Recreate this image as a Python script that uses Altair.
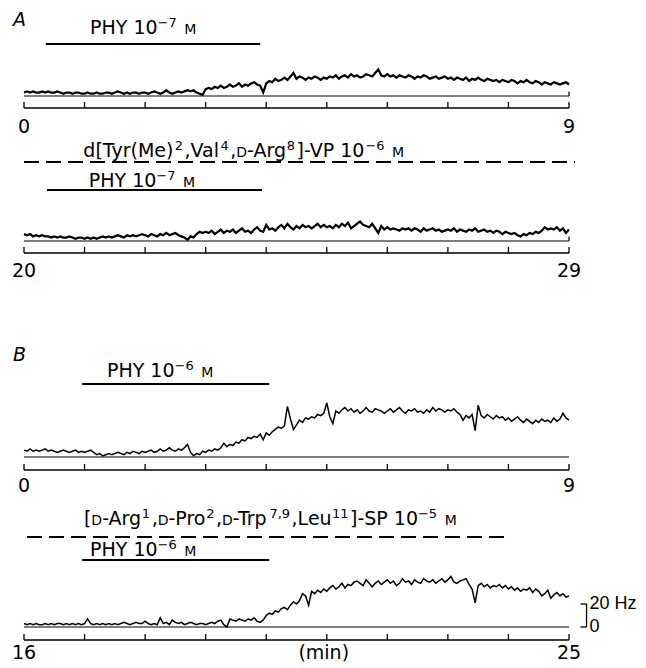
import altair as alt
import pandas as pd

# ---------------- data (firing rate, Hz, sampled every 0.05 min) ----------------
STEP = 0.05
A1_START, A2_START, B1_START, B2_START = 0, 20, 0, 16

A1_HZ = [3,4,3,4,3,3,4,3,4,3,3,4,3,2,3,3,2,3,3,2,
         2,3,2,2,3,2,2,3,3,2,3,4,3,2,3,2,3,3,2,3,
         3,2,3,4,3,2,3,5,3,2,3,4,3,4,5,4,5,3,2,1,
         6,7,6,8,7,9,7,8,10,8,9,11,8,10,9,11,12,10,9,3,
         11,13,12,15,13,14,16,14,17,20,15,17,16,14,16,15,17,16,14,16,
         15,17,16,18,15,17,18,16,19,17,18,16,17,19,18,17,20,23,18,17,
         19,17,18,16,18,17,16,18,17,15,17,16,18,17,15,16,17,15,16,17,
         15,16,14,16,15,14,16,13,15,14,16,14,13,15,14,13,14,12,14,13,
         12,14,13,11,13,12,14,12,11,13,12,10,12,11,10,12,11,10,11,12,
         10]

A2_HZ = [6,5,6,4,5,4,5,4,4,3,4,3,4,3,3,4,3,2,3,3,
         2,3,2,3,2,3,4,3,4,3,4,5,4,3,5,4,5,4,5,6,
         5,4,6,5,4,6,5,7,5,6,7,5,4,3,1,4,3,6,8,7,
         8,7,9,6,8,10,7,9,8,10,7,9,11,8,9,7,10,12,9,8,
         14,10,11,9,12,14,11,15,12,10,13,11,14,12,13,11,13,15,12,14,
         12,13,11,14,12,15,13,16,11,13,15,17,14,13,12,15,11,7,13,10,
         12,10,11,10,9,11,10,11,9,11,10,8,11,9,10,11,9,10,8,9,
         10,9,11,8,10,9,8,10,9,11,8,9,10,8,9,7,9,8,6,8,
         7,6,7,5,4,6,5,7,6,8,7,9,12,10,11,10,12,9,11,7,
         10]

B1_HZ = [6,5,7,5,6,5,6,7,5,6,5,4,5,6,5,4,5,6,4,5,
         4,5,6,4,2,3,1,2,3,2,3,4,3,2,4,3,5,4,3,5,
         4,5,6,4,5,7,5,6,8,6,5,7,6,8,11,4,1,3,2,5,
         4,6,5,7,6,8,12,9,11,10,13,12,15,14,17,16,18,17,20,15,
         21,19,22,24,26,25,27,44,33,24,28,32,30,34,33,35,34,37,36,38,
         47,35,29,40,38,41,43,40,42,39,41,38,40,43,40,39,42,41,40,38,
         40,42,39,41,43,40,38,41,40,42,39,40,38,41,39,43,40,42,41,39,
         41,40,42,39,37,32,36,34,37,23,45,36,34,37,35,33,36,34,35,32,
         34,31,33,35,32,30,33,31,29,32,30,33,31,32,30,34,31,33,38,34,
         32]

B2_HZ = [3,2,3,2,3,2,2,3,2,3,2,3,3,2,3,2,3,2,3,2,
         3,7,3,2,3,2,3,2,3,2,3,2,3,4,3,2,3,4,3,3,
         5,3,2,3,2,8,3,4,2,6,4,3,4,2,3,4,3,2,3,3,
         2,3,4,3,5,6,2,0,7,6,5,7,6,5,7,6,8,5,4,6,
         10,12,11,14,13,16,17,15,19,22,20,23,29,27,19,31,29,32,30,33,
         31,34,36,33,35,38,34,37,36,39,40,38,36,41,38,35,38,40,37,39,
         41,38,40,36,38,42,39,40,37,41,39,38,42,40,39,41,38,40,42,39,
         41,44,39,38,40,41,42,37,33,21,36,38,35,37,34,36,35,37,34,36,
         33,35,32,34,31,33,32,34,30,33,31,27,29,32,25,28,30,27,29,26,
         27]

# drug applications (minutes from start of each record)
PHY_A = [0.36, 3.90]
PHY_B = [0.96, 4.05]
VP_ANT = [0.0, 9.1]
SP_ANT = [0.05, 7.98]
SPAN = 9            # minutes per record
CAL_HZ = 20         # calibration bar

# annotation texts: (segment, style) n = normal, sup = superscript, sc = small capital
TXT_PHY7 = [("PHY 10", "n"), ("\u22127", "sup"), (" ", "n"), ("M", "sc")]
TXT_PHY6 = [("PHY 10", "n"), ("\u22126", "sup"), (" ", "n"), ("M", "sc")]
TXT_VP = [("d[Tyr(Me)", "n"), ("2", "sup"), (",Val", "n"), ("4", "sup"), (",", "n"), ("D", "sc"),
          ("-Arg", "n"), ("8", "sup"), ("]-VP 10", "n"), ("\u22126", "sup"), (" ", "n"), ("M", "sc")]
TXT_SP = [("[", "n"), ("D", "sc"), ("-Arg", "n"), ("1", "sup"), (",", "n"), ("D", "sc"), ("-Pro", "n"),
          ("2", "sup"), (",", "n"), ("D", "sc"), ("-Trp", "n"), ("7,9", "sup"), (",Leu", "n"),
          ("11", "sup"), ("]-SP 10", "n"), ("\u22125", "sup"), (" ", "n"), ("M", "sc")]

# ---------------- styling ----------------
K = 1.15            # px per Hz
W = 545
FONT = "DejaVu Sans"
CAL_FONT = "Liberation Sans"
FS = 19
SIZES = {"n": 19, "sup": 13, "sc": 14}
RAISE = {"n": 0, "sup": -7, "sc": 0}
GAP = {"n": 0, "sup": 1.5, "sc": 0}

# DejaVu Sans advance widths (per 1000 em, T reduced for kerning with r/y)
ADV = {" ": 318, "(": 390, ")": 390, ",": 318, "-": 361, "[": 390, "]": 390, "\u2212": 838,
       "A": 684, "D": 770, "H": 752, "L": 557, "M": 863, "P": 603, "S": 635, "T": 520,
       "V": 684, "Y": 611, "a": 613, "d": 635, "e": 615, "g": 635, "l": 278, "o": 612,
       "p": 635, "r": 411, "u": 634, "y": 592}


def width(s, size):
    return sum(ADV.get(c, 636) for c in s) * size / 1000.0


def text_layers(segments, xdatum, r, xs):
    out = []
    off = 0.0
    for seg, st in segments:
        if seg.strip():
            out.append(alt.Chart().mark_text(font=FONT, fontSize=SIZES[st], align="left",
                                             baseline="alphabetic", dx=off).encode(
                x=alt.X(datum=xdatum, scale=xs, axis=None), y=alt.value(r + RAISE[st]),
                text=alt.value(seg)))
        off += width(seg, SIZES[st]) + GAP[st]
    return out


def panel(start, values, H, r_base, r_axis, r_lab, stroke, annots, extra=None, letter=None, endtick=False):
    t = [start + i * STEP for i in range(len(values))]
    df = pd.DataFrame({"t": t, "hz": values})
    xs = alt.Scale(domain=[start, start + SPAN], nice=False, zero=False)
    ys = alt.Scale(domain=[-(H - r_base) / K, r_base / K], nice=False, zero=False)
    X = lambda f: alt.X(f, scale=xs, axis=None)

    layers = []
    # zero line
    layers.append(alt.Chart().mark_rule(color="black", strokeWidth=1).encode(
        x=alt.X(datum=start, scale=xs, axis=None), x2=alt.datum(start + SPAN),
        y=alt.Y(datum=0, scale=ys, axis=None)))
    if endtick:
        layers.append(alt.Chart().mark_rule(color="black", strokeWidth=1.2).encode(
            x=alt.X(datum=start + SPAN, scale=xs, axis=None),
            y=alt.Y(datum=0, scale=ys, axis=None), y2=alt.datum(4)))
    # trace
    layers.append(alt.Chart(df).mark_line(color="black", strokeWidth=stroke, strokeJoin="miter").encode(
        x=X("t:Q"), y=alt.Y("hz:Q", scale=ys, axis=None)))
    # time axis line + upward ticks
    layers.append(alt.Chart().mark_rule(color="black", strokeWidth=1.5).encode(
        x=alt.X(datum=start, scale=xs, axis=None), x2=alt.datum(start + SPAN), y=alt.value(r_axis)))
    ticks = pd.DataFrame({"t": [start + i for i in range(SPAN + 1)]})
    layers.append(alt.Chart(ticks).mark_rule(color="black", strokeWidth=1.3).encode(
        x=X("t:Q"), y=alt.value(r_axis), y2=alt.value(r_axis - 6)))
    labs = pd.DataFrame({"t": [start, start + SPAN], "lab": [str(start), str(start + SPAN)]})
    layers.append(alt.Chart(labs).mark_text(font=FONT, fontSize=FS, baseline="alphabetic").encode(
        x=X("t:Q"), y=alt.value(r_lab), text="lab:N"))
    # annotations
    for kind, a, b, r, txt in annots:
        if kind == "bar":
            layers.append(alt.Chart().mark_rule(color="black", strokeWidth=2).encode(
                x=alt.X(datum=start + a, scale=xs, axis=None), x2=alt.datum(start + b), y=alt.value(r)))
        elif kind == "dash":
            layers.append(alt.Chart().mark_rule(color="black", strokeWidth=2, strokeDash=[15, 7]).encode(
                x=alt.X(datum=start + a, scale=xs, axis=None), x2=alt.datum(start + b), y=alt.value(r)))
        elif kind == "text":
            layers += text_layers(txt, start + a, r, xs)
    if letter:
        layers.append(alt.Chart().mark_text(font=FONT, fontSize=FS, fontStyle="italic",
                                            align="left", baseline="alphabetic").encode(
            x=alt.value(-11), y=alt.value(letter[1]), text=alt.value(letter[0])))
    if extra:
        layers += extra(xs, ys)
    return alt.layer(*layers).properties(width=W, height=H)


def calib(xs, ys):
    s = B2_START
    out = []
    out.append(alt.Chart().mark_rule(color="black", strokeWidth=1.3).encode(
        x=alt.X(datum=s + 9.29, scale=xs, axis=None),
        y=alt.Y(datum=0, scale=ys, axis=None), y2=alt.datum(CAL_HZ)))
    for v in [0, CAL_HZ]:
        out.append(alt.Chart().mark_rule(color="black", strokeWidth=1.3).encode(
            x=alt.X(datum=s + 9.19, scale=xs, axis=None), x2=alt.datum(s + 9.29),
            y=alt.Y(datum=v, scale=ys, axis=None)))
    cal = pd.DataFrame({"t": [s + 9.34, s + 9.34], "hz": [CAL_HZ, 0], "lab": [f"{CAL_HZ} Hz", "0"]})
    out.append(alt.Chart(cal).mark_text(font=CAL_FONT, fontSize=18, align="left", baseline="middle").encode(
        x=alt.X("t:Q", scale=xs, axis=None), y=alt.Y("hz:Q", scale=ys, axis=None), text="lab:N"))
    out.append(alt.Chart().mark_text(font=FONT, fontSize=FS, baseline="alphabetic").encode(
        x=alt.X(datum=s + 4.95, scale=xs, axis=None), y=alt.value(164), text=alt.value("(min)")))
    return out


pA1 = panel(A1_START, A1_HZ, 130, 88, 100, 125, 2.2,
            [("text", 1.09, None, 26, TXT_PHY7), ("bar", PHY_A[0], PHY_A[1], 36, None)],
            letter=("A", 18), endtick=True)
pA2 = panel(A2_START, A2_HZ, 147, 103, 115, 139, 2.2,
            [("text", 0.98, None, 19, TXT_VP), ("dash", VP_ANT[0], VP_ANT[1], 24, None),
             ("text", 1.07, None, 49, TXT_PHY7), ("bar", PHY_A[0] + 0.02, PHY_A[1] + 0.03, 52, None)],
            endtick=True)
pB1 = panel(B1_START, B1_HZ, 210, 172, 185, 207, 1.5,
            [("text", 1.37, None, 92, TXT_PHY6), ("bar", PHY_B[0], PHY_B[1], 99, None)],
            letter=("B", 76))
pB2 = panel(B2_START, B2_HZ, 168, 132, 145, 164, 1.5,
            [("text", 0.99, None, 30, TXT_SP), ("dash", SP_ANT[0], SP_ANT[1], 42, None),
             ("text", 1.09, None, 61, TXT_PHY6), ("bar", PHY_B[0], PHY_B[1], 65, None)],
            extra=calib)

chart = alt.vconcat(pA1, pA2, pB1, pB2, spacing=0, bounds="flush",
                    padding={"left": 3, "top": 0, "right": 0, "bottom": 0}).configure_view(stroke=None)

chart.save("out.html", embed_options={"renderer": "svg", "actions": False})
